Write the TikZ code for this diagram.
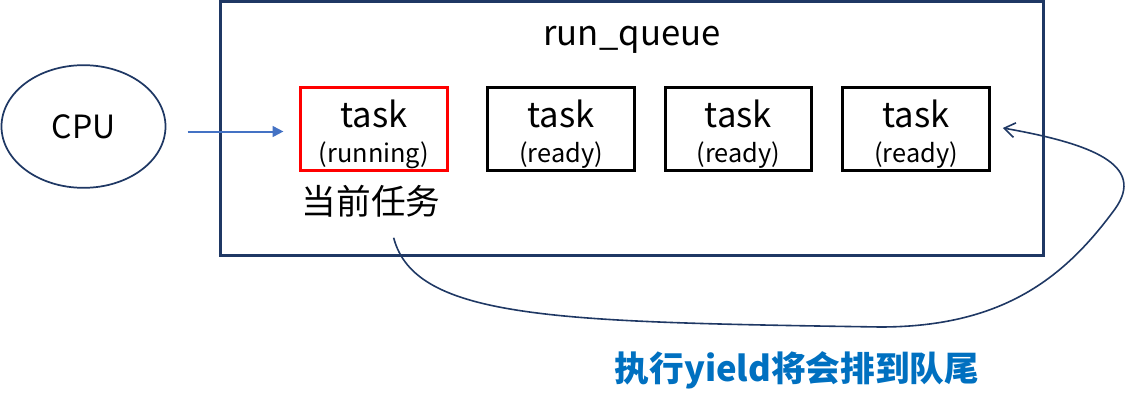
\documentclass[tikz,border=0pt]{standalone}
\usepackage{fontspec}
\setmainfont{Noto Sans CJK SC}
\usetikzlibrary{arrows.meta, shapes.geometric, positioning}

\definecolor{navy}{HTML}{1F3864}
\definecolor{linkblue}{HTML}{4472C4}
\definecolor{noteblue}{HTML}{0070C0}

\begin{document}
\begin{tikzpicture}[x=0.75pt, y=-0.75pt,
  queue/.style={draw=navy, line width=2.3pt},
  taskbox/.style={draw=black, line width=2.2pt, minimum width=110pt,
    minimum height=62.5pt, inner sep=0pt},
  runbox/.style={taskbox, draw=red, line width=1.9pt},
  tasktxt/.style={anchor=base, inner sep=0pt, font=\fontsize{26}{30}\selectfont},
  statetxt/.style={anchor=base, inner sep=0pt, font=\fontsize{19}{22}\selectfont},
  cpu/.style={ellipse, draw=navy, line width=1.3pt, minimum width=123pt,
    minimum height=92pt, font=\fontsize{24}{28}\selectfont},
  feed/.style={draw=linkblue, line width=1.5pt, -{Triangle[length=8pt,width=8pt]}},
  yieldback/.style={draw=navy, line width=1.2pt,
    -{Straight Barb[length=8pt,width=11pt,line width=1.2pt]}},
  label/.style={font=\fontsize{26}{30}\selectfont}
]
\useasboundingbox (0,0) rectangle (1125,400);

%% --- run queue frame ---
\draw[queue] (220.5,1.5) rectangle (1043.5,255.5);
\node[label, anchor=base, inner sep=0pt] (rq) at (632,45) {run\_queue};

%% --- cpu ---
\node[cpu] (cpu) at (83.5,126.5) {CPU};

%% --- tasks in the queue ---
\node[runbox]  (t1) at (374,129)   {};
\node[taskbox] (t2) at (561,129)   {};
\node[taskbox] (t3) at (738.5,129) {};
\node[taskbox] (t4) at (916,129)   {};

\node[tasktxt]  (t1a) at (374,127)   {task};
\node[statetxt] (t1b) at (374,162)   {(running)};
\node[tasktxt]  (t2a) at (561,127)   {task};
\node[statetxt] (t2b) at (561,162)   {(ready)};
\node[tasktxt]  (t3a) at (738.5,127) {task};
\node[statetxt] (t3b) at (738.5,162) {(ready)};
\node[tasktxt]  (t4a) at (916,127)   {task};
\node[statetxt] (t4b) at (916,162)   {(ready)};

\node[label] (cur) at (371,201) {当前任务};

%% --- cpu picks the running task ---
\draw[feed] ([xshift=16pt]cpu.east |- 0,131.5) -- ([xshift=-12pt]t1.west |- 0,131.5);

%% --- yield sends it to the tail ---
\draw[yieldback] ([xshift=17pt,yshift=-12pt]cur.south) .. controls (415,320) and (560,322) .. (880,327)
  .. controls (1000,327) and (1062,280) .. (1112,213)
  .. controls (1148,168) and (1100,145) .. ([xshift=9pt,yshift=0.75pt]t4.east);
\node[font=\fontsize{26}{30}\selectfont\bfseries, text=noteblue] (note) at (797,370)
  {执行yield将会排到队尾};

\end{tikzpicture}
\end{document}
